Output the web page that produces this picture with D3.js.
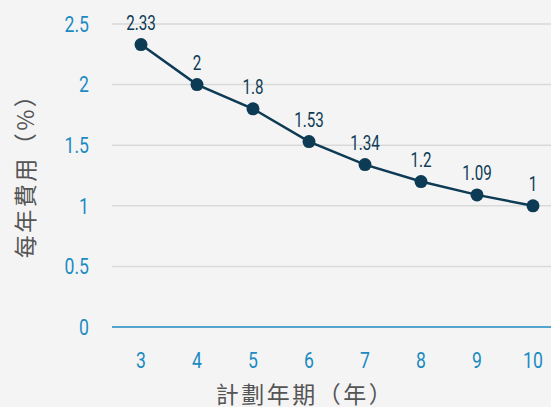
<html>
  <head>
    <style>
      body {
        margin: 0;
        background: #f4f4f4;
      }
      svg {
        display: block;
      }
      .tick-label {
        font-family: Roboto, sans-serif;
        font-size: 22px;
        fill: #1b8bc2;
      }
      .value-label {
        font-family: Roboto, sans-serif;
        font-size: 20px;
        fill: #0d3b55;
        text-anchor: middle;
      }
      .axis-title {
        font-family: "Noto Sans CJK TC", "Noto Sans CJK SC", sans-serif;
        font-size: 23px;
        letter-spacing: 2.5px;
        fill: #555555;
        text-anchor: middle;
      }
    </style>
  </head>
  <body>
    <script src="https://d3js.org/d3.v7.min.js"></script>
    <script>
      const years = ["3", "4", "5", "6", "7", "8", "9", "10"];
      const fees = [2.33, 2, 1.8, 1.53, 1.34, 1.2, 1.09, 1];
      const yTicks = [0, 0.5, 1, 1.5, 2, 2.5];

      const width = 551,
        height = 407;
      const narrow = 0.8; // squeeze digits like the condensed face in the original

      const svg = d3
        .select("body")
        .append("svg")
        .attr("width", width)
        .attr("height", height);

      const x = d3.scaleBand().domain(years).range([113, 561]);
      const y = d3.scaleLinear().domain([0, 2.5]).range([327, 24]);

      // gridlines
      svg
        .append("g")
        .selectAll("line")
        .data(yTicks.filter((d) => d > 0))
        .join("line")
        .attr("x1", 112)
        .attr("x2", width)
        .attr("y1", (d) => y(d))
        .attr("y2", (d) => y(d))
        .attr("stroke", "#d9d9d9")
        .attr("stroke-width", 1.5);

      // baseline
      svg
        .append("line")
        .attr("x1", 112)
        .attr("x2", width)
        .attr("y1", y(0))
        .attr("y2", y(0))
        .attr("stroke", "#1b8bc2")
        .attr("stroke-width", 1.5);

      // y tick labels
      svg
        .append("g")
        .selectAll("text")
        .data(yTicks)
        .join("text")
        .attr("class", "tick-label")
        .attr("transform", (d) => `translate(89,${y(d)}) scale(${narrow},1)`)
        .attr("dy", "0.35em")
        .attr("text-anchor", "end")
        .text((d) => d);

      // x tick labels
      svg
        .append("g")
        .selectAll("text")
        .data(years)
        .join("text")
        .attr("class", "tick-label")
        .attr(
          "transform",
          (d) => `translate(${x(d) + x.bandwidth() / 2},368) scale(${narrow},1)`
        )
        .attr("text-anchor", "middle")
        .text((d) => d);

      const pts = years.map((yr, i) => [x(yr) + x.bandwidth() / 2, y(fees[i])]);

      svg
        .append("path")
        .attr("d", d3.line()(pts))
        .attr("fill", "none")
        .attr("stroke", "#0d3b55")
        .attr("stroke-width", 2.5);

      svg
        .append("g")
        .selectAll("circle")
        .data(pts)
        .join("circle")
        .attr("cx", (d) => d[0])
        .attr("cy", (d) => d[1])
        .attr("r", 6.5)
        .attr("fill", "#0d3b55");

      svg
        .append("g")
        .selectAll("text")
        .data(pts)
        .join("text")
        .attr("class", "value-label")
        .attr("transform", (d) => `translate(${d[0]},${d[1] - 15}) scale(0.76,1)`)
        .text((d, i) => fees[i]);

      // axis titles
      svg
        .append("text")
        .attr("class", "axis-title")
        .attr("transform", "translate(34,170) rotate(-90)")
        .text("每年費用（%）");

      svg
        .append("text")
        .attr("class", "axis-title")
        .attr("x", 305)
        .attr("y", 403)
        .text("計劃年期（年）");
    </script>
  </body>
</html>
